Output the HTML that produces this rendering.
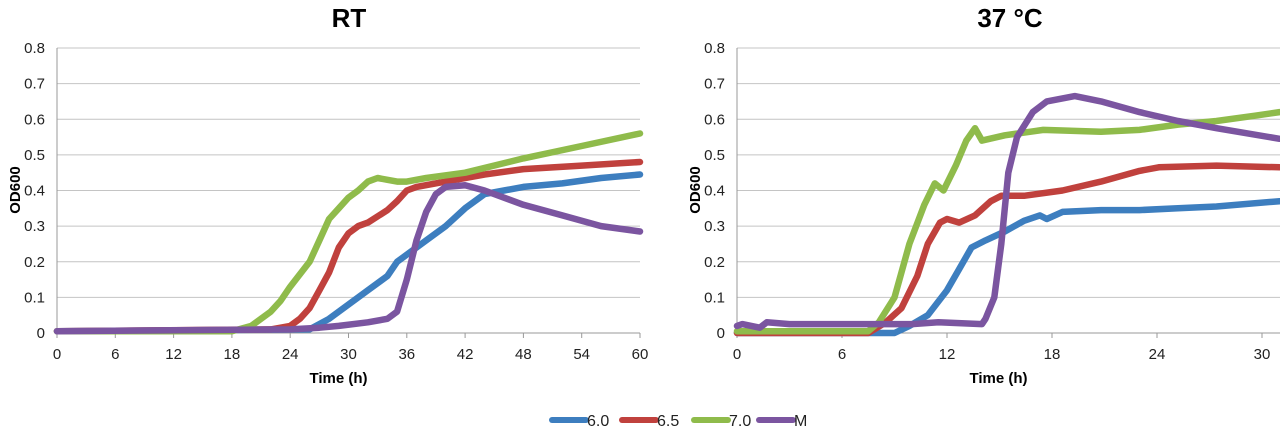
<!DOCTYPE html>
<html><head><meta charset="utf-8"><style>
html,body{margin:0;padding:0;background:#fff;}
svg{display:block;font-family:"Liberation Sans",Arial,sans-serif;}
</style></head><body>
<svg id="c" width="1280" height="427" viewBox="0 0 1280 427"></svg>
<script>
const leftHours6 = [0,26,28,30,32,34,35,37,38,40,42,44,46,48,52,56,60];
const leftVals6  = [0.005,0.01,0.04,0.08,0.12,0.16,0.2,0.24,0.26,0.3,0.35,0.39,0.40,0.41,0.42,0.435,0.445];
const leftHours65 = [0,22,24,25,26,27,28,29,30,31,32,34,35,36,37,40,44,48,54,60];
const leftVals65  = [0.005,0.01,0.02,0.04,0.07,0.12,0.17,0.24,0.28,0.3,0.31,0.345,0.37,0.4,0.41,0.425,0.445,0.46,0.47,0.48];
const leftHours7 = [0,18,20,22,23,24,26,27,28,29,30,31,32,33,34,35,36,38,42,48,54,60];
const leftVals7  = [0.005,0.005,0.02,0.06,0.09,0.13,0.2,0.26,0.32,0.35,0.38,0.40,0.425,0.435,0.43,0.425,0.425,0.435,0.45,0.49,0.525,0.56];
const leftHoursM = [0,24,27,29,32,34,35,36,37,38,39,40,42,44,48,52,56,60];
const leftValsM  = [0.005,0.01,0.015,0.02,0.03,0.04,0.06,0.15,0.26,0.34,0.39,0.41,0.415,0.40,0.36,0.33,0.30,0.285];

const rightHours6 = [0,9,9.85,10.9,12,12.7,13.4,14.2,15.3,16.4,17.3,17.7,18.6,20.8,23,25.2,27.4,31];
const rightVals6  = [0,0,0.02,0.05,0.12,0.18,0.24,0.26,0.285,0.315,0.33,0.32,0.34,0.345,0.345,0.35,0.355,0.37];
const rightHours65 = [0,7.5,8.5,9.4,10.3,10.9,11.6,12,12.7,13.6,14.5,15.1,16.4,18.6,20.8,23,24.1,27.4,31];
const rightVals65  = [0,0,0.03,0.07,0.16,0.25,0.31,0.32,0.31,0.33,0.37,0.385,0.385,0.40,0.425,0.455,0.465,0.47,0.465];
const rightHours7 = [0,7.5,8.1,9,9.85,10.7,11.3,11.8,12.5,13.1,13.6,14,15.3,17.5,20.8,23,25.2,27.4,29.6,31];
const rightVals7  = [0.005,0.005,0.03,0.1,0.25,0.36,0.42,0.40,0.47,0.54,0.575,0.54,0.555,0.57,0.565,0.57,0.585,0.595,0.61,0.62];
const rightHoursM = [0,0.3,1.3,1.7,3,6,10,11.5,14,14.2,14.7,15.1,15.5,16,16.9,17.7,19.3,20.8,23,25.2,27.4,31];
const rightValsM  = [0.02,0.025,0.015,0.03,0.025,0.025,0.025,0.03,0.025,0.04,0.1,0.25,0.45,0.55,0.62,0.65,0.665,0.65,0.62,0.595,0.575,0.545];

const yTicks = [0,0.1,0.2,0.3,0.4,0.5,0.6,0.7,0.8];
const leftXTicks = [0,6,12,18,24,30,36,42,48,54,60];
const rightXTicks = [0,6,12,18,24,30];
const seriesNames = ["6.0","6.5","7.0","M"];
const colors = ["#3d7ebf","#c0413d","#8fbb4b","#7b55a0"];

const NS="http://www.w3.org/2000/svg";
const svg=document.getElementById('c');
function mk(tag,attrs,parent){const e=document.createElementNS(NS,tag);for(const k in attrs)e.setAttribute(k,attrs[k]);(parent||svg).appendChild(e);return e;}

function chart(cfg){
  const g=mk('g',{});
  
  
  const x=h=>cfg.x0+(h-cfg.xmin)*(cfg.x1-cfg.x0)/(cfg.xmax-cfg.xmin);
  const y=v=>333-v*(333-48)/0.8;
  yTicks.forEach(t=>{
    if(t>0){const l=mk('line',{x1:cfg.x0,x2:cfg.xend,y1:y(t),y2:y(t),stroke:'#c4c4c4','stroke-width':1},g);
    
    }
    const tx=mk('text',{x:cfg.x0-12,y:y(t)+5,'text-anchor':'end','font-size':15,fill:'#222'},g);
    tx.textContent=t===0?'0':t.toFixed(1);
    
    
  });
  mk('line',{x1:cfg.x0,x2:cfg.x0,y1:48,y2:333,stroke:'#999','stroke-width':1},g);
  mk('line',{x1:cfg.x0,x2:cfg.xend,y1:333,y2:333,stroke:'#999','stroke-width':1},g);
  cfg.xt.forEach(t=>{
    mk('line',{x1:x(t),x2:x(t),y1:333,y2:338,stroke:'#999'},g);
    const tx=mk('text',{x:x(t),y:359,'text-anchor':'middle','font-size':15,fill:'#222'},g);
    tx.textContent=t;
    
    
  });
  cfg.series.forEach((s,i)=>{
    const d=s[0].map((h,j)=>(j?'L':'M')+x(h).toFixed(1)+','+y(s[1][j]).toFixed(1)).join(' ');
    const p=mk('path',{d:d,fill:'none',stroke:colors[i],'stroke-width':6.5,'stroke-linejoin':'round','stroke-linecap':'round'},g);
    
    
  });
  const t=mk('text',{x:cfg.tx,y:27,'text-anchor':'middle','font-size':26,'font-weight':'bold',fill:'#000'},g);
  t.textContent=cfg.title;
  
  
  const xl=mk('text',{x:(cfg.x0+cfg.xend)/2-10,y:383,'text-anchor':'middle','font-size':15,'font-weight':'bold',fill:'#000'},g);
  xl.textContent='Time (h)';
  
  
  const yl=mk('text',{x:0,y:0,'text-anchor':'middle','font-size':15,'font-weight':'bold',fill:'#000',transform:`translate(${cfg.x0-37},190) rotate(-90)`},g);
  yl.textContent='OD600';
  
  
}
chart({name:'rt-chart',title:'RT',tx:349,x0:57,x1:640,xend:640,xmin:0,xmax:60,xt:leftXTicks,
  series:[[leftHours6,leftVals6],[leftHours65,leftVals65],[leftHours7,leftVals7],[leftHoursM,leftValsM]]});
chart({name:'37c-chart',title:'37 °C',tx:1010,x0:737,x1:1262,xend:1280,xmin:0,xmax:30,xt:rightXTicks,
  series:[[rightHours6,rightVals6],[rightHours65,rightVals65],[rightHours7,rightVals7],[rightHoursM,rightValsM]]});

const legX=[550,620,692,757];
seriesNames.forEach((n,i)=>{
  const g=mk('g',{});
  
  
  mk('line',{x1:legX[i]+2,x2:legX[i]+36,y1:420,y2:420,stroke:colors[i],'stroke-width':6,'stroke-linecap':'round'},g);
  const t=mk('text',{x:legX[i]+37,y:426,'font-size':16,fill:'#222'},g);
  t.textContent=n;
});
</script>
</body></html>
